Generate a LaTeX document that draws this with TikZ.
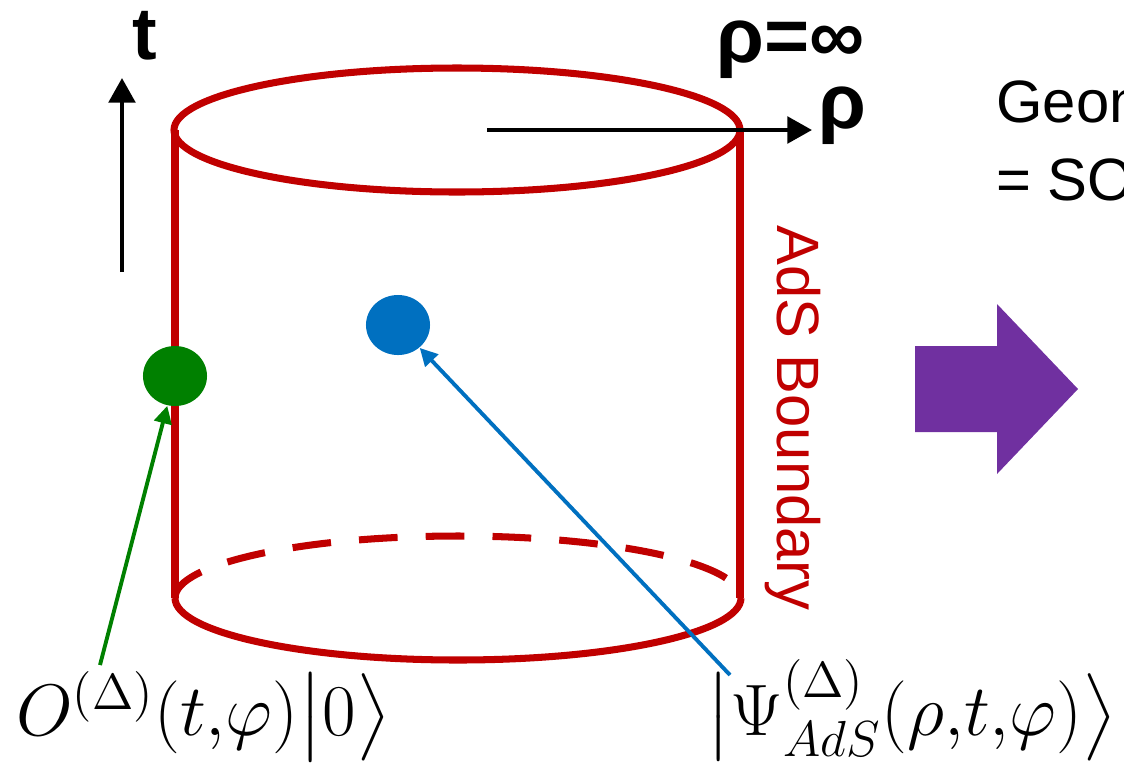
\documentclass[tikz,border=0pt]{standalone}
\usepackage{exscale}
\usepackage{fontspec}
\setmainfont{Liberation Sans}
\usetikzlibrary{arrows.meta,shapes.geometric}
\definecolor{adsred}{HTML}{C00000}
\definecolor{bulkblue}{HTML}{0070C0}
\definecolor{bdrygreen}{HTML}{008000}
\definecolor{mappurple}{HTML}{7030A0}
\tikzset{
  ads/.style={adsred,line width=2pt},
  axis/.style={line width=1.2pt,-{Triangle[length=7pt,width=7.5pt]}},
  ptr/.style={line width=1.1pt,-{Triangle[length=5pt,width=5pt]}},
  dot/.style={ellipse,minimum width=0.64cm,minimum height=0.6cm,inner sep=0pt},
  big/.style={font=\fontsize{20.5}{25}\selectfont,inner sep=1pt},
}
\begin{document}
\begin{tikzpicture}[x=0.01cm,y=-0.01cm]
\useasboundingbox (0,0) rectangle (1124,766);
\clip (0,0) rectangle (1124,766);
% cylinder
\draw[ads] (457,130) ellipse [x radius=283, y radius=62];
\draw[ads] (175,130) -- (175,598);
\draw[ads] (740,130) -- (740,598);
\draw[ads] (175,598) arc[start angle=180, end angle=0, x radius=283, y radius=62];
\draw[ads,dash pattern=on 11pt off 8pt] (175,598) arc[start angle=180, end angle=360, x radius=283, y radius=62];
\node[adsred,rotate=-90,font=\fontsize{17}{20}\selectfont] (bdry) at (793,418) {AdS Boundary};
% axes
\coordinate (t0) at (122,272);
\coordinate (t1) at (122,78);
\draw[axis] (t0) -- (t1);
\node[font=\fontsize{21}{24}\selectfont\bfseries] (tlab) at (145,36) {t};
\coordinate (r0) at (487,130);
\coordinate (r1) at (812,130);
\draw[axis] (r0) -- (r1);
\node[font=\fontsize{22}{26}\selectfont\bfseries,inner sep=0pt] (rlab) at (842,116) {ρ};
\node[font=\fontsize{22}{26}\selectfont\bfseries,inner sep=0pt] (rinf) at (791,50) {ρ=∞};
% points
\node[dot,fill=bdrygreen] (gdot) at (175,376) {};
\node[dot,fill=bulkblue] (bdot) at (398,325) {};
\node[big,anchor=west] (Olab) at (12,716) {$O^{(\Delta)}(t{,}\varphi)\bigl|0\bigr\rangle$};
\node[big,anchor=east] (Plab) at (1121,710) {$\bigl|\Psi^{(\Delta)}_{AdS}(\rho{,}t{,}\varphi)\bigr\rangle$};
\coordinate (g0) at (100,665);
\coordinate (b0) at (730,675);
\draw[ptr,bdrygreen] (g0) -- (gdot);
\draw[ptr,bulkblue] (b0) -- (bdot);
% map arrow
\fill[mappurple] (915,346) -- (997,346) -- (997,304) -- (1078,389) -- (997,474) -- (997,432) -- (915,432) -- cycle;
\node[anchor=west,font=\fontsize{17}{20}\selectfont] (geo) at (984,102) {Geom};
\node[anchor=west,font=\fontsize{17}{20}\selectfont] (so) at (984,180) {= SO};
\end{tikzpicture}
\end{document}
